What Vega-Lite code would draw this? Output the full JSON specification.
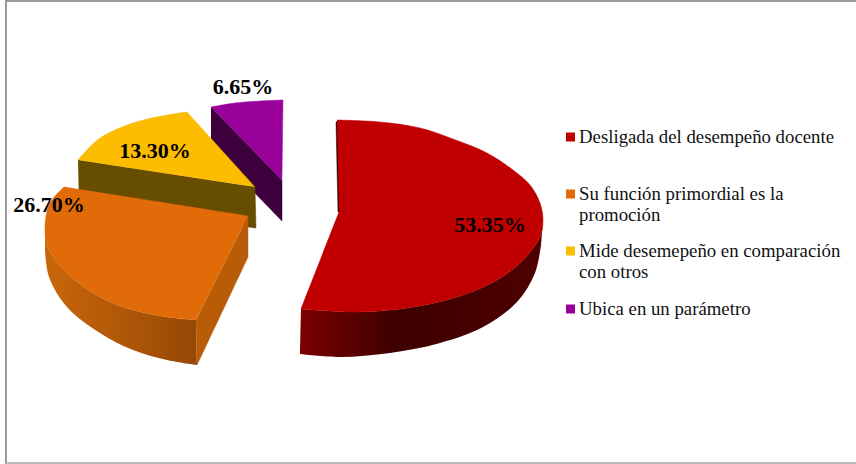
{"$schema":"https://vega.github.io/schema/vega-lite/v6.json","width":856,"height":464,"autosize":{"type":"none"},"padding":0,"background":"white","config":{"view":{"stroke":null}},
"datasets":{
"frame":[{"edge":"a","o":1,"x":6,"y":464},{"edge":"a","o":2,"x":6,"y":1},{"edge":"a","o":3,"x":856,"y":1}],
"frameb":[{"edge":"b","o":1,"x":6,"y":463},{"edge":"b","o":2,"x":856,"y":463}],
"legend":[{"slice":"red-top","entry":"Desligada del desempeño docente","x":570.5,"y":137},{"slice":"orange-top","entry":"Su función primordial es la\npromoción","x":570.5,"y":194},{"slice":"yellow-top","entry":"Mide desemepeño en comparación\ncon otros","x":570.5,"y":251},{"slice":"purple-top","entry":"Ubica en un parámetro","x":570.5,"y":309}],
"labels":[{"share":0.5335,"x":490,"y":225},{"share":0.267,"x":49,"y":205},{"share":0.133,"x":155,"y":151},{"share":0.0665,"x":243,"y":87}],
"outline":[
{"s":"purple-side","o":1,"x":211,"y":107},{"s":"purple-side","o":2,"x":211,"y":107},{"s":"purple-side","o":3,"x":282,"y":180},{"s":"purple-side","o":4,"x":282,"y":180},{"s":"purple-side","o":5,"x":282,"y":221},{"s":"purple-side","o":6,"x":282,"y":221},{"s":"purple-side","o":7,"x":211,"y":148},{"s":"purple-side","o":8,"x":211,"y":148},
{"s":"purple-top","o":1,"x":211,"y":107},{"s":"purple-top","o":2,"x":211,"y":107},{"s":"purple-top","o":3,"x":235,"y":103},{"s":"purple-top","o":4,"x":260,"y":101},{"s":"purple-top","o":5,"x":283,"y":100},{"s":"purple-top","o":6,"x":283,"y":100},{"s":"purple-top","o":7,"x":282,"y":180},{"s":"purple-top","o":8,"x":282,"y":180},
{"s":"yellow-side","o":1,"x":78,"y":160},{"s":"yellow-side","o":2,"x":78,"y":160},{"s":"yellow-side","o":3,"x":255,"y":187},{"s":"yellow-side","o":4,"x":255,"y":187},{"s":"yellow-side","o":5,"x":256,"y":228},{"s":"yellow-side","o":6,"x":256,"y":228},{"s":"yellow-side","o":7,"x":79,"y":205},{"s":"yellow-side","o":8,"x":79,"y":205},
{"s":"yellow-top","o":1,"x":78,"y":160},{"s":"yellow-top","o":2,"x":78,"y":160},{"s":"yellow-top","o":3,"x":100,"y":138},{"s":"yellow-top","o":4,"x":133,"y":123},{"s":"yellow-top","o":5,"x":167,"y":115},{"s":"yellow-top","o":6,"x":187,"y":112},{"s":"yellow-top","o":7,"x":187,"y":112},{"s":"yellow-top","o":8,"x":255,"y":187},{"s":"yellow-top","o":9,"x":255,"y":187},
{"s":"orange-inner","o":1,"x":248,"y":216},{"s":"orange-inner","o":2,"x":248,"y":216},{"s":"orange-inner","o":3,"x":248,"y":257},{"s":"orange-inner","o":4,"x":248,"y":257},{"s":"orange-inner","o":5,"x":197,"y":365},{"s":"orange-inner","o":6,"x":197,"y":365},{"s":"orange-inner","o":7,"x":196,"y":320},{"s":"orange-inner","o":8,"x":196,"y":320},
{"s":"orange-top","o":1,"x":64,"y":187},{"s":"orange-top","o":2,"x":64,"y":187},{"s":"orange-top","o":3,"x":248,"y":216},{"s":"orange-top","o":4,"x":248,"y":216},{"s":"orange-top","o":5,"x":196,"y":320},{"s":"orange-top","o":6,"x":196,"y":320},{"s":"orange-top","o":7,"x":167,"y":317},{"s":"orange-top","o":8,"x":133,"y":310},{"s":"orange-top","o":9,"x":100,"y":297},{"s":"orange-top","o":10,"x":67,"y":273},{"s":"orange-top","o":11,"x":48,"y":247},{"s":"orange-top","o":12,"x":45,"y":227},{"s":"orange-top","o":13,"x":50,"y":203},{"s":"orange-top","o":14,"x":64,"y":187},
{"s":"red-sliver","o":1,"x":336,"y":122},{"s":"red-sliver","o":2,"x":336,"y":122},{"s":"red-sliver","o":3,"x":338,"y":212},{"s":"red-sliver","o":4,"x":338,"y":212},{"s":"red-sliver","o":5,"x":340,"y":212},{"s":"red-sliver","o":6,"x":340,"y":212},{"s":"red-sliver","o":7,"x":338,"y":120},{"s":"red-sliver","o":8,"x":338,"y":120},
{"s":"red-top","o":1,"x":337,"y":120},{"s":"red-top","o":2,"x":337,"y":120},{"s":"red-top","o":3,"x":380,"y":122},{"s":"red-top","o":4,"x":420,"y":128},{"s":"red-top","o":5,"x":453,"y":139},{"s":"red-top","o":6,"x":487,"y":153},{"s":"red-top","o":7,"x":513,"y":170},{"s":"red-top","o":8,"x":530,"y":185},{"s":"red-top","o":9,"x":540,"y":203},{"s":"red-top","o":10,"x":543,"y":220},{"s":"red-top","o":11,"x":540,"y":237},{"s":"red-top","o":12,"x":523,"y":260},{"s":"red-top","o":13,"x":497,"y":280},{"s":"red-top","o":14,"x":457,"y":297},{"s":"red-top","o":15,"x":407,"y":308},{"s":"red-top","o":16,"x":357,"y":312},{"s":"red-top","o":17,"x":301,"y":309},{"s":"red-top","o":18,"x":301,"y":309},{"s":"red-top","o":19,"x":339,"y":212},{"s":"red-top","o":20,"x":339,"y":212}],
"orangeside":[{"o":1,"x":45,"y":227},{"o":2,"x":45,"y":227},{"o":3,"x":48,"y":247},{"o":4,"x":67,"y":273},{"o":5,"x":100,"y":297},{"o":6,"x":133,"y":310},{"o":7,"x":167,"y":317},{"o":8,"x":196,"y":320},{"o":9,"x":196,"y":320},{"o":10,"x":197,"y":365},{"o":11,"x":197,"y":365},{"o":12,"x":167,"y":360},{"o":13,"x":133,"y":350},{"o":14,"x":100,"y":333},{"o":15,"x":67,"y":307},{"o":16,"x":49,"y":277},{"o":17,"x":45,"y":250},{"o":18,"x":45,"y":250}],
"redside":[{"o":1,"x":543,"y":220},{"o":2,"x":543,"y":220},{"o":3,"x":540,"y":237},{"o":4,"x":523,"y":260},{"o":5,"x":497,"y":280},{"o":6,"x":457,"y":297},{"o":7,"x":407,"y":308},{"o":8,"x":357,"y":312},{"o":9,"x":301,"y":309},{"o":10,"x":301,"y":309},{"o":11,"x":300,"y":354},{"o":12,"x":300,"y":354},{"o":13,"x":340,"y":357},{"o":14,"x":390,"y":353},{"o":15,"x":440,"y":343},{"o":16,"x":483,"y":327},{"o":17,"x":517,"y":302},{"o":18,"x":535,"y":273},{"o":19,"x":541,"y":245},{"o":20,"x":541,"y":245}]
},
"encoding":{"x":{"field":"x","type":"quantitative","axis":null,"scale":{"domain":[0,856],"nice":false,"zero":false}},"y":{"field":"y","type":"quantitative","axis":null,"scale":{"domain":[464,0],"nice":false,"zero":false}}},
"layer":[
{"data":{"name":"frame"},"mark":{"type":"line","stroke":"#999999","strokeWidth":2},"encoding":{"order":{"field":"o"}}},
{"data":{"name":"frameb"},"mark":{"type":"line","stroke":"#bbbbbb","strokeWidth":2},"encoding":{"order":{"field":"o"}}},
{"data":{"name":"outline"},"transform":[{"filter":{"field":"s","oneOf":["purple-side","purple-top","yellow-side","yellow-top"]}}],"mark":{"type":"line","strokeWidth":0.5,"interpolate":"catmull-rom"},"encoding":{"order":{"field":"o"},"detail":{"field":"s"},"fill":{"field":"s","legend":null,"scale":{"domain":["purple-side","purple-top","yellow-side","yellow-top","orange-inner","orange-top","red-sliver","red-top"],"range":["#3d003d","#990099","#664d00","#fcbc00","#b85c08","#e16b08","#300000","#c00000"]}},"stroke":{"field":"s","legend":null,"scale":{"domain":["purple-side","purple-top","yellow-side","yellow-top","orange-inner","orange-top","red-sliver","red-top"],"range":["#3d003d","#990099","#664d00","#fcbc00","#b85c08","#e16b08","#300000","#c00000"]}}}},
{"data":{"name":"orangeside"},"mark":{"type":"line","strokeWidth":0,"interpolate":"catmull-rom","fill":{"gradient":"linear","x1":0,"y1":0,"x2":1,"y2":0,"stops":[{"offset":0,"color":"#c9660a"},{"offset":0.5,"color":"#b05808"},{"offset":1,"color":"#944806"}]}},"encoding":{"order":{"field":"o"}}},
{"data":{"name":"redside"},"mark":{"type":"line","strokeWidth":0,"interpolate":"catmull-rom","fill":{"gradient":"linear","x1":0,"y1":0,"x2":1,"y2":0,"stops":[{"offset":0,"color":"#7a0000"},{"offset":0.4,"color":"#3d0000"},{"offset":1,"color":"#4f0000"}]}},"encoding":{"order":{"field":"o"}}},
{"data":{"name":"outline"},"transform":[{"filter":{"field":"s","oneOf":["orange-inner","orange-top","red-sliver","red-top"]}}],"mark":{"type":"line","strokeWidth":0.5,"interpolate":"catmull-rom"},"encoding":{"order":{"field":"o"},"detail":{"field":"s"},"fill":{"field":"s","legend":null},"stroke":{"field":"s","legend":null}}},
{"data":{"name":"labels"},"mark":{"type":"text","font":"Liberation Serif","fontWeight":"bold","fontSize":22,"align":"center","baseline":"middle","color":"#000000"},"encoding":{"text":{"field":"share","type":"quantitative","format":".2%"}}},
{"data":{"name":"legend"},"mark":{"type":"point","shape":"square","filled":true,"size":81,"opacity":1},"encoding":{"fill":{"field":"slice","legend":null}}},
{"data":{"name":"legend"},"mark":{"type":"text","font":"Liberation Serif","fontSize":18.8,"align":"left","baseline":"top","dx":8.5,"dy":-9,"lineBreak":"\n","lineHeight":21,"color":"#111111"},"encoding":{"text":{"field":"entry"}}}
]}
